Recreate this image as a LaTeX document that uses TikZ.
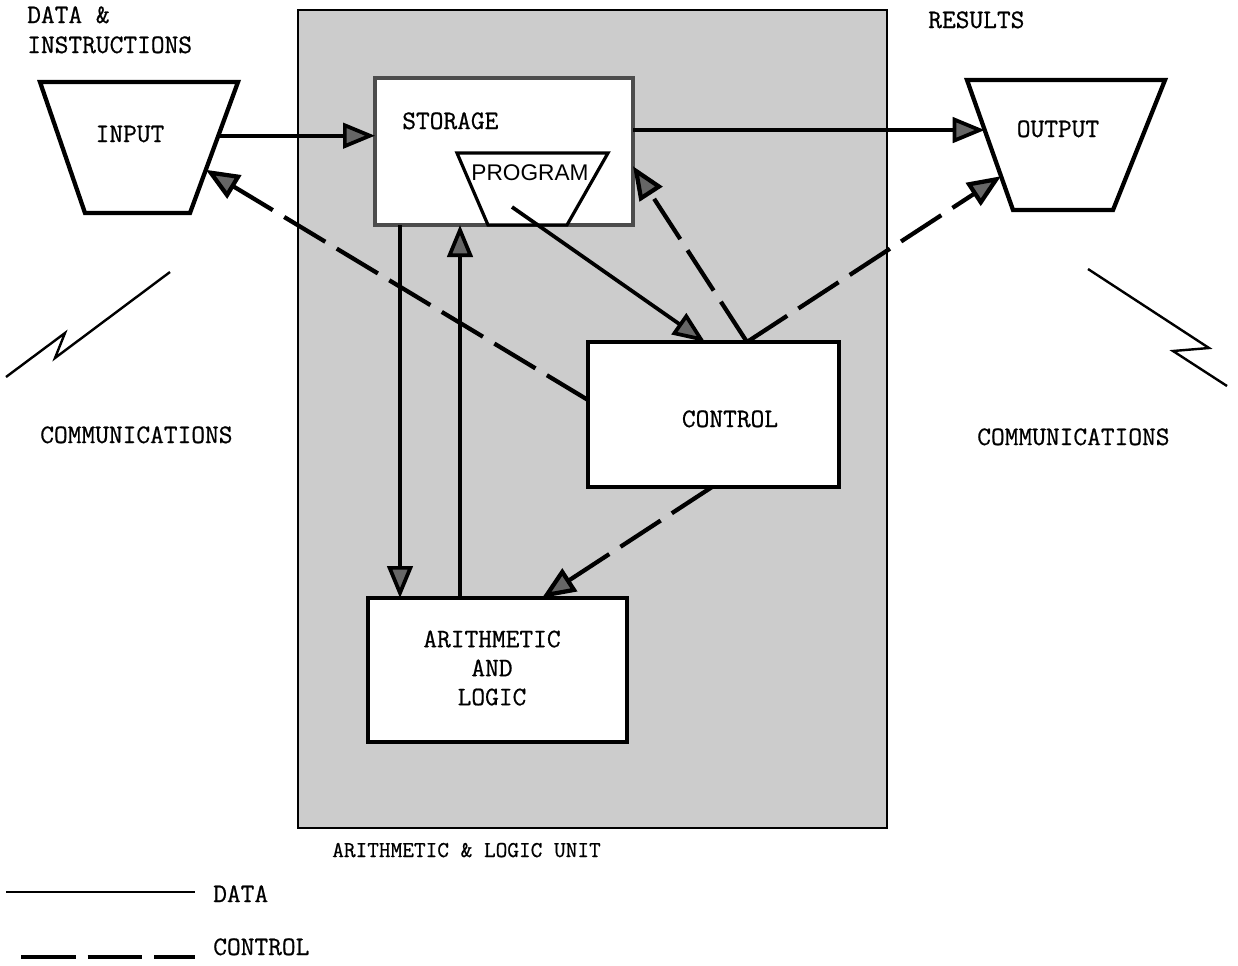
\documentclass[tikz,border=0pt]{standalone}
\usepackage{fontspec}
\newfontfamily\progfont{Liberation Sans}
\newfontfamily\typefont{Latin Modern Mono}[FakeBold=0.7]
\usetikzlibrary{arrows.meta,calc}

\begin{document}
\begin{tikzpicture}[x=0.75pt,y=0.75pt,yscale=-1,xscale=1,
		every node/.style={font=\typefont\fontsize{20}{22.5}\selectfont, inner sep=0pt},
		unit/.style={draw, fill=white, line width=3.2pt, outer sep=0pt},
		hopper/.style={draw, fill=white, line width=3.2pt, line join=miter},
		datal/.style={line width=2.8pt, -{Triangle[length=24pt,width=19pt,fill=black!60]}},
		ctrll/.style={line width=3.2pt, dash pattern=on 36pt off 10pt, -{Triangle[length=25pt,width=20pt,fill=black!60]}},
		bolt/.style={line width=1.8pt, line join=miter}]
			\useasboundingbox (0,0) rectangle (1238,965);
			\draw [line width=1.4pt, fill=black!20] (298,10) rectangle (887,828);
			\node (storage) [unit, draw=black!70, minimum width=193.5pt, minimum height=110.25pt] at (504,151.5) {};
			\node (control) [unit, minimum width=188.25pt, minimum height=108.75pt] at (713.5,414.5) {};
			\node (alu) [unit, minimum width=194.25pt, minimum height=108pt] at (497.5,670) {};
			\coordinate (in1) at (40,82); \coordinate (in2) at (238,82);
			\coordinate (in3) at (190,213); \coordinate (in4) at (85,213);
			\coordinate (out1) at (967,80); \coordinate (out2) at (1165,80);
			\coordinate (out3) at (1113,210); \coordinate (out4) at (1013,210);
			\coordinate (pr1) at (457,153); \coordinate (pr2) at (608,153);
			\coordinate (pr3) at (567,225); \coordinate (pr4) at (488,225);
			\draw [hopper] (in1) -- (in2) -- (in3) -- (in4) -- cycle;
			\draw [hopper] (out1) -- (out2) -- (out3) -- (out4) -- cycle;
			\draw [hopper, line width=2.4pt] (pr1) -- (pr2) -- (pr3) -- (pr4) -- cycle;
			\node (input) [anchor=base] at (130,142) {INPUT};
			\node (output) [anchor=base] at (1058,137) {OUTPUT};
			\node (storagetxt) [anchor=base west] at (402,129) {STORAGE};
			\node (program) [anchor=base, font=\progfont\fontsize{17}{20}\selectfont] at (530,180) {PROGRAM};
			\node (controltxt) [anchor=base] at (730,427) {CONTROL};
			\node (alutxt) [align=center, font=\typefont\fontsize{20}{21.75}\selectfont] at (492,668) {ARITHMETIC\\AND\\LOGIC};
			\coordinate (inport) at ($(in2)!0.41!(in3)$);
			\coordinate (outport) at ($(out1)!0.385!(out4)$);
			\coordinate (progout) at (512,207);
			\draw [datal] (inport) -- (storage.west |- inport);
			\draw [datal] (storage.east |- outport) -- (outport);
			\draw [datal] ($(storage.south west)+(25,0)$) -- ($(alu.north west)+(32,0)$);
			\draw [datal] ($(alu.north west)+(92,0)$) -- ($(storage.south west)+(85,0)$);
			\draw [datal] (progout) -- ($(control.north west)+(117,0)$);
			\coordinate (ctlsrc) at ($(control.north west)+(159,0)$);
			\coordinate (incport) at ($(in2)!0.67!(in3)$);
			\coordinate (outcport) at ($(out1)!0.74!(out4)$);
			\draw [ctrll] ($(control.north west)!0.4!(control.south west)$) -- (incport);
			\draw [ctrll] (ctlsrc) -- ($(storage.north east)!0.6!(storage.south east)$);
			\draw [ctrll] (ctlsrc) -- (outcport);
			\draw [ctrll] ($(control.south west)+(124,0)$) -- ($(alu.north west)+(174,0)$);
			\draw [bolt] (6,377) -- (65,333) -- (55,358) -- (170,272);
			\draw [bolt] (1088,269) -- (1209,348) -- (1173,351) -- (1227,386);
			\node (datainstr) [align=left, anchor=base west] at (27,53) {DATA \&\\INSTRUCTIONS};
			\node (results) [anchor=base west] at (928,28) {RESULTS};
			\node (commleft) [anchor=base west] at (40,443) {COMMUNICATIONS};
			\node (commright) [anchor=base west] at (977,445) {COMMUNICATIONS};
			\node (unitlabel) [anchor=base west, font=\typefont\fontsize{17}{20}\selectfont] at (332,857) {ARITHMETIC \& LOGIC UNIT};
			\draw [line width=2.2pt] (6,892) -- (195,892);
			\node (datakey) [anchor=base west] at (213,902) {DATA};
			\draw [line width=2.6pt, dash pattern=on 41pt off 9pt] (21,957) -- (195,957);
			\node (controlkey) [anchor=base west] at (213,955) {CONTROL};
	\end{tikzpicture}
\end{document}
